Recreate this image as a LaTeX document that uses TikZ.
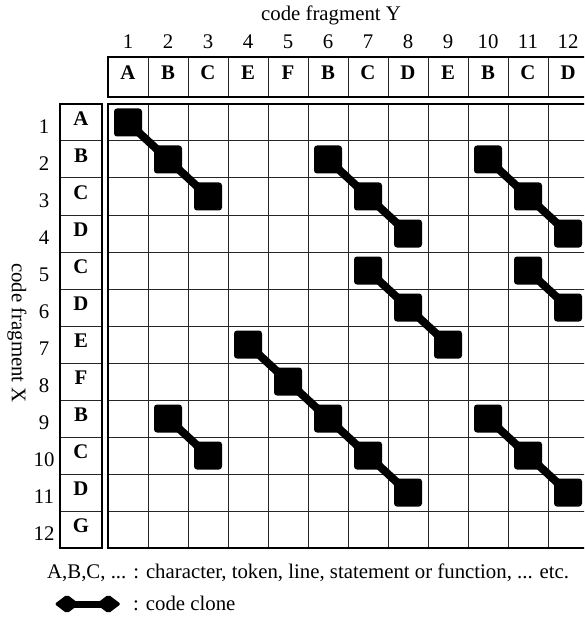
\documentclass[tikz,border=0pt]{standalone}
\usepackage{fontspec}
\setmainfont{Liberation Serif}
\usetikzlibrary{shapes.geometric, positioning}

\begin{document}
\begin{tikzpicture}[
    x=1pt, y=-1pt,
    every node/.style={font=\fontsize{20.8}{25}\selectfont, inner sep=0pt},
    letter/.style={font=\fontsize{20.8}{25}\selectfont\bfseries},
    clone/.style={rectangle, fill=black, rounded corners=3pt, minimum size=28pt},
    keyclone/.style={diamond, fill=black, rounded corners=2pt, minimum width=25pt, minimum height=19pt},
    link/.style={line width=8pt},
    thingrid/.style={line width=1pt, black!85},
    frame/.style={line width=2.5pt}
]
\clip (0,0) rectangle (584,620);

% titles
\node (ytitle) at (331,15) {code fragment Y};
\node (xtitle) [rotate=-90] at (17,333) {code fragment X};

% thin cell lines
\foreach \i in {1,...,11} {
    \draw [thingrid] ({108+40*\i},57) -- ({108+40*\i},97);
    \draw [thingrid] ({108+40*\i},104) -- ({108+40*\i},548);
    \draw [thingrid] (108,{104+37*\i}) -- (600,{104+37*\i});
    \draw [thingrid] (60,{104+37*\i}) -- (102,{104+37*\i});
}
\draw [frame] (108,57) rectangle (590,97);
\draw [frame] (108,104) rectangle (590,548);
\draw [frame] (60,104) rectangle (102,548);

% fragment Y
\foreach \l [count=\i] in {A,B,C,E,F,B,C,D,E,B,C,D} {
    \node (ny\i) at ({88+40*\i},42) {\i};
    \node (hy\i) [letter] at ({88+40*\i},73) {\l};
}
% fragment X
\foreach \l [count=\i] in {A,B,C,D,C,D,E,F,B,C,D,G} {
    \node (nx\i) at (44,{89.5+37*\i}) {\i};
    \node (hx\i) [letter] at (81,{81.5+37*\i}) {\l};
}

% clones: start row / start column / length
\foreach \r/\c/\n in {1/1/3, 2/6/3, 2/10/3, 5/7/3, 5/11/2, 7/4/5, 9/2/2, 9/10/3} {
    \foreach \k in {1,...,\n} {
        \pgfmathtruncatemacro{\rr}{\r+\k-1}
        \pgfmathtruncatemacro{\cc}{\c+\k-1}
        \node (b\rr-\cc) [clone] at ({88+40*\cc},{85.5+37*\rr}) {};
    }
}
\foreach \r/\c/\n in {1/1/3, 2/6/3, 2/10/3, 5/7/3, 5/11/2, 7/4/5, 9/2/2, 9/10/3} {
    \foreach \k in {2,...,\n} {
        \pgfmathtruncatemacro{\ra}{\r+\k-2}
        \pgfmathtruncatemacro{\ca}{\c+\k-2}
        \pgfmathtruncatemacro{\rb}{\r+\k-1}
        \pgfmathtruncatemacro{\cb}{\c+\k-1}
        \draw [link] (b\ra-\ca.center) -- (b\rb-\cb.center);
    }
}

% legend
\node (keytext) [anchor=west] at (47,573) {A,B,C, ... : character, token, line, statement or function, ... etc.};
\node (kl) [keyclone] at (67,604) {};
\node (kr) [keyclone, right=16pt of kl] {};
\draw [line width=7pt] (kl.center) -- (kr.center);
\node (keylabel) [anchor=west] at (133,603) {: code clone};
\end{tikzpicture}
\end{document}
